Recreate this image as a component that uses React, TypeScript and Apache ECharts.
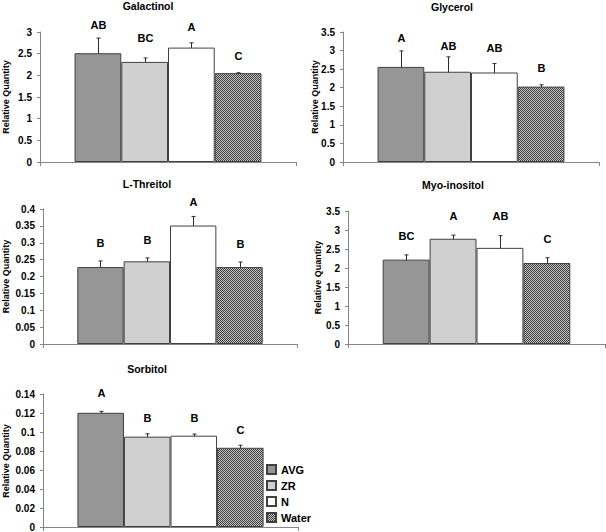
import React, { useEffect, useRef } from 'react';
import * as echarts from 'echarts';

const groups = ['AVG', 'ZR', 'N', 'Water'];
const titles = ['Galactinol', 'Glycerol', 'L-Threitol', 'Myo-inositol', 'Sorbitol'];
const yAxisTitle = 'Relative Quantity';

const galactinolMeans = [2.51, 2.31, 2.64, 2.05];
const galactinolErrors = [0.35, 0.09, 0.11, 0.01];
const galactinolLetters = ['AB', 'BC', 'A', 'C'];
const galactinolLetterY = [3.17, 2.86, 3.12, 2.45];

const glycerolMeans = [2.56, 2.43, 2.41, 2.03];
const glycerolErrors = [0.43, 0.4, 0.24, 0.05];
const glycerolLetters = ['A', 'AB', 'AB', 'B'];
const glycerolLetterY = [3.35, 3.13, 3.07, 2.54];

const threitolMeans = [0.228, 0.245, 0.351, 0.228];
const threitolErrors = [0.018, 0.01, 0.027, 0.015];
const threitolLetters = ['B', 'B', 'A', 'B'];
const threitolLetterY = [0.299, 0.309, 0.42, 0.297];

const inositolMeans = [2.22, 2.77, 2.53, 2.13];
const inositolErrors = [0.125, 0.095, 0.32, 0.14];
const inositolLetters = ['BC', 'A', 'AB', 'C'];
const inositolLetterY = [2.83, 3.36, 3.36, 2.77];

const sorbitolMeans = [0.1202, 0.0951, 0.0961, 0.0834];
const sorbitolErrors = [0.0015, 0.003, 0.0017, 0.0027];
const sorbitolLetters = ['A', 'B', 'B', 'C'];
const sorbitolLetterY = [0.141, 0.115, 0.115, 0.1017];

const yMaxes = [3, 3.5, 0.4, 3.5, 0.14];
const yIntervals = [0.5, 0.5, 0.05, 0.5, 0.02];

const allMeans = [galactinolMeans, glycerolMeans, threitolMeans, inositolMeans, sorbitolMeans];
const allErrors = [galactinolErrors, glycerolErrors, threitolErrors, inositolErrors, sorbitolErrors];
const allLetters = [galactinolLetters, glycerolLetters, threitolLetters, inositolLetters, sorbitolLetters];
const allLetterY = [galactinolLetterY, glycerolLetterY, threitolLetterY, inositolLetterY, sorbitolLetterY];

// layout (pixels)
const grids = [
  { left: 40, top: 32, width: 256, height: 130 },
  { left: 343, top: 32, width: 256, height: 130 },
  { left: 43, top: 209, width: 254, height: 135 },
  { left: 348, top: 211, width: 257, height: 133 },
  { left: 43, top: 394, width: 255, height: 134 },
];
const namePos = [
  [6, 97],
  [315, 97],
  [6, 276.5],
  [317.5, 277.5],
  [6, 461],
];
const titlePos = [
  [148, 5.5],
  [452, 6.5],
  [147, 183.5],
  [453, 185],
  [147, 368.5],
];
const GAP = 0.27;
const FONT = '"Liberation Sans", Arial, sans-serif';

export default function App() {
  const ref = useRef<HTMLDivElement>(null);
  useEffect(() => {
    if (!ref.current) return;
    const chart = echarts.init(ref.current, undefined, { renderer: 'svg' });

    const cv = document.createElement('canvas');
    cv.width = 2;
    cv.height = 2;
    const ctx = cv.getContext('2d')!;
    ctx.fillStyle = '#c8c8c8';
    ctx.fillRect(0, 0, 2, 2);
    ctx.fillStyle = '#3a3a3a';
    ctx.fillRect(0, 0, 1, 1);
    ctx.fillRect(1, 1, 1, 1);
    const checker: any = { image: cv, repeat: 'repeat', imageWidth: 2, imageHeight: 2 };

    const colors: any[] = ['#969696', '#d0d0d0', '#ffffff', checker];

    const series: any[] = [];
    allMeans.forEach((means, k) => {
      groups.forEach((g, i) => {
        series.push({
          type: 'bar',
          name: g,
          xAxisIndex: k,
          yAxisIndex: k,
          data: [means[i]],
          barGap: '0%',
          barCategoryGap: GAP * 100 + '%',
          itemStyle: { color: colors[i], borderColor: '#404040', borderWidth: 1 },
        });
      });
      const letters = allLetters[k];
      series.push({
        type: 'custom',
        xAxisIndex: k,
        yAxisIndex: k,
        data: means.map((m, i) => [0, m, allErrors[k][i], allLetterY[k][i], i]),
        encode: { x: 0, y: 1 },
        renderItem: (params: any, api: any) => {
          const i = api.value(4);
          const m = api.value(1);
          const e = api.value(2);
          const ly = api.value(3);
          const band = api.size([1, 0])[0];
          const bw = (band * (1 - GAP)) / 4;
          const c = api.coord([0, m]);
          const x = Math.round(c[0] + (i - 1.5) * bw) + 0.5;
          const yt = api.coord([0, m + e])[1];
          const yb = api.coord([0, m - e])[1];
          const yl = api.coord([0, ly])[1];
          const st = { stroke: '#2a2a2a', lineWidth: 1 };
          return {
            type: 'group',
            children: [
              { type: 'line', shape: { x1: x, y1: yt, x2: x, y2: yb }, style: st },
              { type: 'line', shape: { x1: x - 2, y1: yt, x2: x + 2, y2: yt }, style: st },
              { type: 'line', shape: { x1: x - 2, y1: yb, x2: x + 2, y2: yb }, style: st },
              {
                type: 'text',
                style: {
                  text: letters[params.dataIndex],
                  x,
                  y: yl,
                  align: 'center',
                  verticalAlign: 'middle',
                  font: 'bold 11px ' + FONT,
                  fill: '#000',
                },
              },
            ],
          };
        },
      });
    });

    const titleTexts = titles.map((t, k) => ({
      type: 'text',
      x: titlePos[k][0],
      y: titlePos[k][1],
      style: {
        text: t,
        align: 'center',
        verticalAlign: 'middle',
        font: 'bold 10.5px ' + FONT,
        fill: '#000',
      },
    }));
    const nameTexts = namePos.map((p) => ({
      type: 'text',
      x: p[0],
      y: p[1],
      rotation: Math.PI / 2,
      style: {
        text: yAxisTitle,
        align: 'center',
        verticalAlign: 'middle',
        font: 'bold 9px ' + FONT,
        fill: '#000',
      },
    }));

    const option: any = {
      animation: false,
      grid: grids.map((g) => ({ ...g, containLabel: false })),
      xAxis: grids.map((_, k) => ({
        type: 'category',
        gridIndex: k,
        data: [''],
        axisLine: { show: true, lineStyle: { color: '#868686', width: 1 } },
        axisTick: { show: true, length: 4, lineStyle: { color: '#868686' } },
        axisLabel: { show: false },
        splitLine: { show: false },
      })),
      yAxis: grids.map((_, k) => ({
        type: 'value',
        gridIndex: k,
        min: 0,
        max: yMaxes[k],
        interval: yIntervals[k],
        axisLine: { show: true, lineStyle: { color: '#868686', width: 1 } },
        axisTick: { show: true, length: 3, lineStyle: { color: '#868686' } },
        axisLabel: { fontFamily: FONT, fontWeight: 'bold', fontSize: 10, color: '#000', margin: 8 },
        splitLine: { show: false },
      })),
      legend: {
        data: groups,
        orient: 'vertical',
        left: 266,
        top: 464,
        itemWidth: 9,
        itemHeight: 9,
        itemGap: 5,
        padding: 0,
        icon: 'rect',
        textStyle: { fontFamily: FONT, fontWeight: 'bold', fontSize: 11, color: '#000' },
      },
      graphic: [...titleTexts, ...nameTexts],
      series,
    };
    chart.setOption(option);
    return () => chart.dispose();
  }, []);
  return (
    <div
      ref={ref}
      style={{ position: 'absolute', left: 0, top: 0, width: 606, height: 532, background: '#fff' }}
    />
  );
}
